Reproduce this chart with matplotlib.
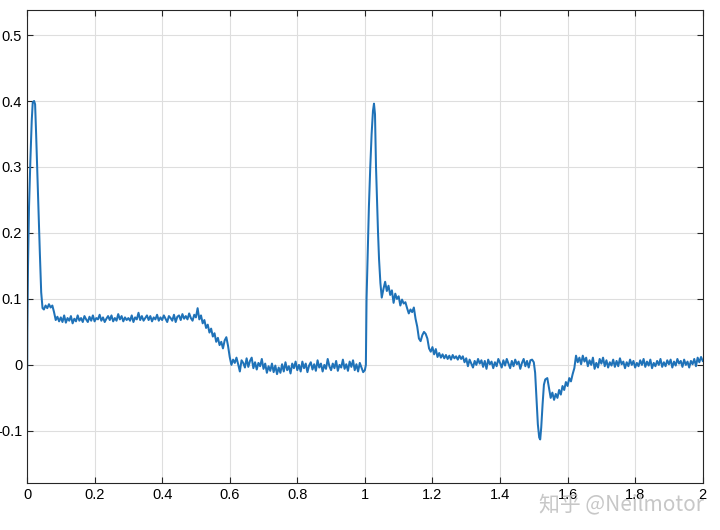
import numpy as np
import matplotlib
matplotlib.use("Agg")
import matplotlib.pyplot as plt
from matplotlib.ticker import FuncFormatter

# ---- data ----
# first spike (explicit times)
t_spike1 = [0.000, 0.001, 0.003, 0.006, 0.010, 0.014, 0.017, 0.021, 0.024,
            0.027, 0.030, 0.034, 0.038, 0.042, 0.046]
y_spike1 = [-0.110, 0.050, 0.150, 0.240, 0.310, 0.370, 0.398, 0.400, 0.395,
            0.350, 0.300, 0.230, 0.170, 0.110, 0.086]

# 0.050 .. 0.995, step 0.005
y_plateau = [
    0.084, 0.090, 0.086, 0.092, 0.087, 0.090, 0.080, 0.068, 0.073, 0.066,
    0.072, 0.065, 0.075, 0.064, 0.071, 0.067, 0.074, 0.063, 0.070, 0.066,
    0.075, 0.067, 0.071, 0.065, 0.074, 0.069, 0.065, 0.073, 0.067, 0.075,
    0.066, 0.071, 0.069, 0.076, 0.067, 0.072, 0.065, 0.070, 0.074, 0.068,
    0.075, 0.066, 0.071, 0.067, 0.077, 0.069, 0.074, 0.066, 0.072, 0.068,
    0.071, 0.067, 0.075, 0.065, 0.072, 0.069, 0.079, 0.068, 0.074, 0.067,
    0.071, 0.075, 0.068, 0.074, 0.066, 0.072, 0.069, 0.076, 0.067, 0.072,
    0.068, 0.075, 0.070, 0.065, 0.074, 0.071, 0.067, 0.076, 0.065, 0.073,
    0.075, 0.068, 0.077, 0.070, 0.074, 0.069, 0.078, 0.071, 0.067, 0.076,
    0.072, 0.086, 0.069, 0.075, 0.063, 0.068, 0.056, 0.061, 0.049, 0.055,
    0.043, 0.048, 0.035, 0.041, 0.030, 0.035, 0.025, 0.037, 0.042, 0.029,
    0.012, 0.000, 0.008, 0.003, 0.011, 0.001, -0.010, 0.007, 0.003, -0.004,
    0.010, -0.003, 0.006, 0.011, -0.005, 0.004, -0.007, 0.003, -0.002, 0.009,
    -0.006, 0.002, -0.012, -0.002, -0.009, 0.002, -0.011, -0.001, -0.014, -0.004,
    -0.012, 0.001, -0.010, 0.004, -0.008, -0.002, -0.013, 0.002, -0.005, 0.005,
    -0.008, 0.000, -0.010, 0.005, -0.005, 0.002, -0.011, -0.001, 0.004, -0.007,
    0.001, -0.009, 0.007, -0.004, 0.002, -0.010, 0.000, -0.006, 0.009, -0.002,
    -0.008, 0.002, -0.005, 0.006, -0.009, 0.000, -0.004, 0.008, -0.006, 0.001,
    -0.009, 0.005, -0.003, 0.007, -0.008, 0.001, -0.010, 0.003, -0.004, -0.011,
]

# second spike (explicit times)
t_spike2 = [1.000, 1.003, 1.005, 1.008, 1.012, 1.016, 1.020, 1.024, 1.027,
            1.030, 1.033, 1.036, 1.039, 1.042, 1.046, 1.050]
y_spike2 = [-0.008, 0.000, 0.100, 0.160, 0.240, 0.300, 0.350, 0.385, 0.396,
            0.380, 0.300, 0.250, 0.200, 0.160, 0.124, 0.102]

# 1.055 .. 1.500, step 0.005
y_decay = [
    0.115, 0.126, 0.112, 0.120, 0.106, 0.113, 0.094, 0.108, 0.100,
    0.104, 0.090, 0.099, 0.093, 0.095, 0.086, 0.078, 0.084, 0.080, 0.087,
    0.070, 0.058, 0.040, 0.036, 0.045, 0.050, 0.047, 0.040, 0.025, 0.020,
    0.027, 0.016, 0.024, 0.012, 0.018, 0.011, 0.016, 0.010, 0.015, 0.009,
    0.014, 0.008, 0.015, 0.010, 0.013, 0.008, 0.014, 0.009, 0.013, 0.004,
    0.010, -0.002, 0.008, 0.002, -0.004, 0.006, 0.000, 0.009, 0.002, 0.007,
    -0.003, 0.006, -0.006, 0.008, 0.001, 0.005, -0.005, 0.004, -0.002, 0.009,
    0.003, -0.004, 0.007, -0.001, 0.009, 0.002, -0.005, 0.006, -0.002, 0.008,
    0.001, 0.005, -0.006, 0.003, 0.009, -0.002, 0.006, -0.004, 0.007, 0.008,
    0.004,
]

# dip near 1.5 s (explicit times)
t_dip = [1.504, 1.508, 1.512, 1.516, 1.519, 1.522, 1.526, 1.530, 1.534]
y_dip = [-0.012, -0.050, -0.090, -0.110, -0.113, -0.095, -0.060, -0.030, -0.022]

# 1.540 .. 2.000, step 0.005
y_tail = [
    -0.020, -0.035, -0.050, -0.042, -0.053, -0.044, -0.050, -0.038, -0.045, -0.032,
    -0.038, -0.026, -0.032, -0.020, -0.025, -0.014, -0.005, 0.014, 0.004, 0.011,
    0.001, 0.014, 0.005, 0.011, -0.002, 0.007, 0.000, 0.011, -0.006, 0.003,
    -0.004, 0.009, 0.002, 0.011, -0.002, 0.007, -0.004, 0.004, -0.001, 0.008,
    -0.003, 0.006, -0.002, 0.010, 0.001, 0.005, -0.005, 0.004, -0.002, 0.008,
    0.000, 0.006, -0.004, 0.003, -0.002, 0.007, 0.000, 0.009, -0.003, 0.005,
    -0.001, 0.008, -0.005, 0.003, -0.002, 0.006, 0.000, 0.009, -0.003, 0.004,
    -0.002, 0.007, 0.001, 0.008, -0.004, 0.005, -0.001, 0.009, 0.002, 0.006,
    -0.003, 0.008, 0.000, 0.005, -0.004, 0.006, 0.001, 0.009, -0.002, 0.011,
    0.004, 0.012, 0.006,
]

x_ticks = [0, 0.2, 0.4, 0.6, 0.8, 1.0, 1.2, 1.4, 1.6, 1.8, 2.0]
y_ticks = [-0.1, 0, 0.1, 0.2, 0.3, 0.4, 0.5]

# ---- assemble time series ----
t_plateau = 0.050 + 0.005 * np.arange(len(y_plateau))
t_decay = 1.055 + 0.005 * np.arange(len(y_decay))
t_tail = 1.540 + 0.005 * np.arange(len(y_tail))

t = np.concatenate([t_spike1, t_plateau, t_spike2, t_decay, t_dip, t_tail])
y = np.concatenate([y_spike1, y_plateau, y_spike2, y_decay, y_dip, y_tail])

# ---- plot ----
plt.rcParams['font.family'] = ['Liberation Sans', 'DejaVu Sans']
fig = plt.figure(figsize=(7.2, 5.3), dpi=100)
ax = fig.add_axes([0.0375, 0.0887, 0.9385, 0.8925])

ax.plot(t, y, color='#1f72b8', linewidth=1.45)

ax.set_xlim(0, 2)
ax.set_ylim(-0.179, 0.538)
ax.set_xticks(x_ticks)
ax.set_yticks(y_ticks)
ax.xaxis.set_major_formatter(FuncFormatter(lambda v, p: f"{v:g}"))
ax.yaxis.set_major_formatter(FuncFormatter(lambda v, p: f"{v:g}"))
ax.tick_params(direction='in', length=4.5, width=0.8, top=True, right=True,
               labelsize=10.5, colors='#262626', labelcolor='black')
ax.grid(True, color='#dedede', linewidth=0.8)
ax.set_axisbelow(True)
for s in ax.spines.values():
    s.set_color('#262626')
    s.set_linewidth(0.8)

fig.text(0.748, 0.048, '知乎 @Neilmotor', fontsize=15, color='#bdbdbd', alpha=0.85,
         family=['Noto Sans CJK SC', 'DejaVu Sans'], va='center', ha='left')

fig.savefig('out.png', dpi=100)
